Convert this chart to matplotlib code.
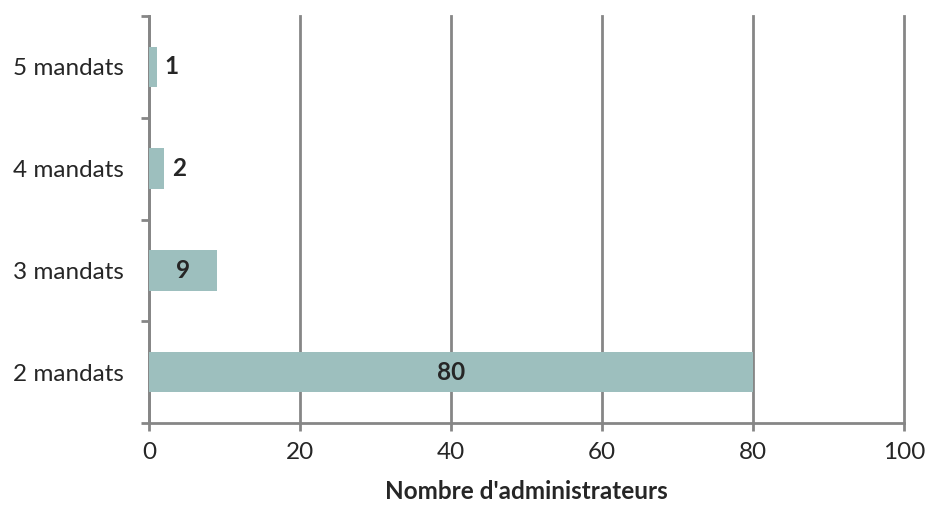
import matplotlib.pyplot as plt

# ================================
# DATA
# ================================
categories = ["2 mandats", "3 mandats", "4 mandats", "5 mandats"]
counts = [80, 9, 2, 1]

bar_color = "#9dbfbe"
grid_color = "#868686"
text_color = "#262626"
fs = 17.5

plt.rcParams["font.family"] = ["Lato", "DejaVu Sans"]

fig = plt.figure(figsize=(9.25, 5.08), dpi=100)
ax = fig.add_axes([149 / 925, 1 - 423 / 508, (904 - 149) / 925, (423 - 16) / 508])

ypos = list(range(len(categories)))
ax.barh(ypos, counts, height=0.4, color=bar_color, zorder=3)

ax.set_xlim(0, 100)
ax.set_ylim(-0.5, len(categories) - 0.5)
ax.set_xticks(range(0, 101, 20))
ax.set_yticks(ypos)
ax.set_yticklabels(categories)

# ticks between categories on the y axis
ax.set_yticks([i - 0.5 for i in range(len(categories) + 1)], minor=True)
ax.tick_params(axis="y", which="major", length=0, pad=18, labelsize=fs, labelcolor=text_color)
ax.tick_params(axis="y", which="minor", length=6, width=2, color=grid_color, direction="out")
ax.tick_params(axis="x", length=6, width=2, color=grid_color, pad=8, labelsize=fs, labelcolor=text_color)

ax.grid(axis="x", color=grid_color, linewidth=2, zorder=0)
for gl in ax.get_xgridlines():
    gl.set_clip_on(False)
for side in ["top", "right"]:
    ax.spines[side].set_visible(False)
for side in ["left", "bottom"]:
    ax.spines[side].set_color(grid_color)
    ax.spines[side].set_linewidth(2)

# value labels
for y, v in zip(ypos, counts):
    if v >= 5:
        ax.text(v / 2, y, str(v), ha="center", va="center", fontsize=fs,
                fontweight="bold", color=text_color, zorder=4)
    else:
        ax.text(v + 1, y, str(v), ha="left", va="center", fontsize=fs,
                fontweight="bold", color=text_color, zorder=4)

ax.set_xlabel("Nombre d'administrateurs", fontsize=fs, fontweight="bold",
              color=text_color, labelpad=12)

fig.savefig("out.png", dpi=100)
